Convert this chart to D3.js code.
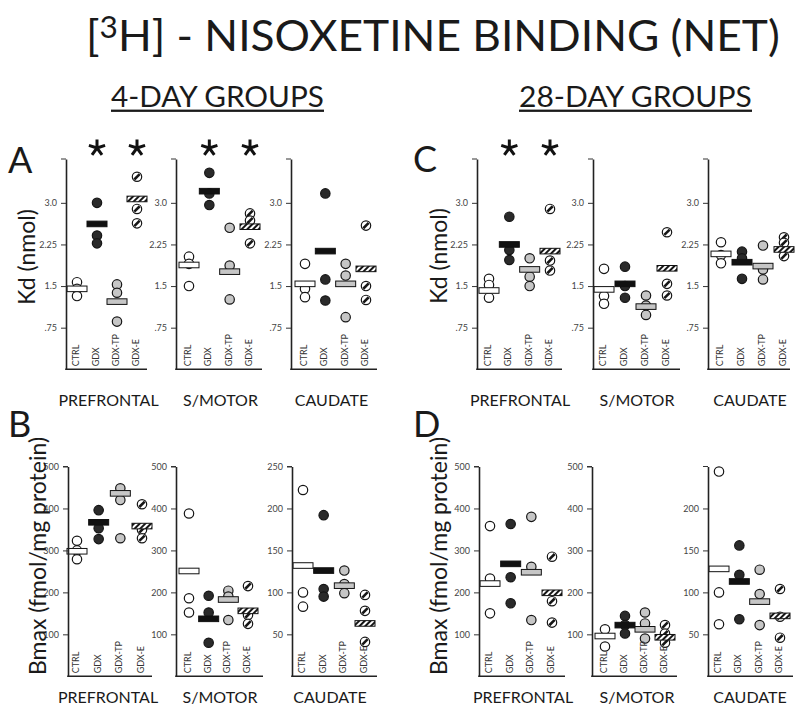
<!DOCTYPE html>
<html><head><meta charset="utf-8">
<script src="https://cdn.jsdelivr.net/npm/d3@7"></script>
<style>
body{margin:0;background:#fff}
svg{display:block}
text{font-family:Lato,"Open Sans","DejaVu Sans",sans-serif;fill:#1a1a1a}
</style>
</head><body>
<svg id="chart" width="800" height="710"></svg>
<script>
// ---------------- DATA ----------------
const groups = ["CTRL","GDX","GDX-TP","GDX-E"];
const regions = ["PREFRONTAL","S/MOTOR","CAUDATE"];
const kdTicks = [0.75,1.5,2.25,3.0];
const kdTickLabels = [".75","1.5","2.25","3.0"];
const bmaxTicks = [100,200,300,400,500];
const cauTicksB = [50,100,150,200,250];
const cauTicksD = [50,100,150,200];

// A: Kd, 4-day
const kd4PrefrontalPts = [[1.57,1.45,1.32],[3.00,2.41,2.27],[1.53,1.38,0.86],[3.47,2.89,2.63]];
const kd4PrefrontalMean = [1.45,2.62,1.22,3.07];
const kd4MotorPts = [[2.03,1.90,1.50],[3.54,3.17,2.96],[2.55,1.87,1.26],[2.81,2.68,2.27]];
const kd4MotorMean = [1.88,3.21,1.76,2.57];
const kd4CaudatePts = [[1.90,1.45,1.30],[3.17,1.62,1.24],[1.90,1.69,0.94],[2.59,1.50,1.25]];
const kd4CaudateMean = [1.54,2.13,1.54,1.81];
const kd4Stars = [["GDX","GDX-E"],["GDX","GDX-E"],[]];

// C: Kd, 28-day
const kd28PrefrontalPts = [[1.63,1.52,1.29],[2.75,2.15,1.97],[2.00,1.67,1.50],[2.89,1.96,1.78]];
const kd28PrefrontalMean = [1.42,2.25,1.80,2.13];
const kd28MotorPts = [[1.81,1.32,1.18],[1.85,1.50,1.29],[1.33,1.15,0.98],[2.47,1.54,1.33]];
const kd28MotorMean = [1.44,1.54,1.13,1.82];
const kd28CaudatePts = [[2.29,2.06,1.91],[2.12,2.00,1.63],[2.23,1.80,1.62],[2.38,2.28,2.04]];
const kd28CaudateMean = [2.08,1.93,1.86,2.16];
const kd28Stars = [["GDX","GDX-E"],[],[]];

// B: Bmax, 4-day
const bm4PrefrontalPts = [[323,300,279],[396,353,327],[448,420,329],[410,349,329]];
const bm4PrefrontalMean = [298,367,436,358];
const bm4MotorPts = [[388,186,152],[192,152,80],[204,190,134],[215,146,125]];
const bm4MotorMean = [251,137,183,156];
const bm4CaudatePts = [[222,100,83],[192,104,95],[126,110,99],[97,78,41]];
const bm4CaudateMean = [132,126,108,63];

// D: Bmax, 28-day
const bm28PrefrontalPts = [[358,233,150],[363,236,174],[380,261,134],[285,179,128]];
const bm28PrefrontalMean = [221,268,248,199];
const bm28MotorPts = [[112,71],[144,122,102],[152,126,90],[122,102,80]];
const bm28MotorMean = [96,122,112,93];
const bm28CaudatePts = [[244,100,62],[156,121,68],[127,98,61],[104,71,46]];
const bm28CaudateMean = [128,113,89,72];

// ---------------- DRAWING ----------------
const svg = d3.select("#chart");
const defs = svg.append("defs");
const pat = defs.append("pattern").attr("id","hatch")
  .attr("patternUnits","userSpaceOnUse").attr("width",4).attr("height",4)
  .attr("patternTransform","rotate(45)");
pat.append("rect").attr("width",4).attr("height",4).attr("fill","#fff");
pat.append("rect").attr("width",2).attr("height",4).attr("fill","#151515");

const fills = {"CTRL":"#ffffff","GDX":"#2a2a2a","GDX-TP":"#c6c6c6","GDX-E":"#ffffff"};
const barFills = {"CTRL":"#ffffff","GDX":"#111111","GDX-TP":"#c6c6c6","GDX-E":"url(#hatch)"};

function fitText(sel, x0, x1, baseline){
  const bb = sel.node().getBBox();
  const sx = (x1 - x0) / bb.width;
  sel.attr("transform", `translate(${x0 - bb.x*sx},${baseline}) scale(${sx},1)`);
}

function starPath(cx, cy, L){
  let d = "";
  for (let i=0;i<5;i++){
    const a = -Math.PI/2 + i*2*Math.PI/5;
    d += `M${cx},${cy}L${cx+L*Math.cos(a)},${cy+L*Math.sin(a)}`;
  }
  return d;
}

function panel(c){
  const g = svg.append("g");
  const y = d3.scaleLinear().domain([0,c.ymax]).range([c.bottom,c.top]);
  const x = d3.scalePoint().domain(groups).range(c.xr);

  // points
  groups.forEach((grp,i)=>{
    c.pts[i].forEach(v=>{
      const cx = x(grp), cy = y(v);
      g.append("circle").attr("cx",cx).attr("cy",cy).attr("r",4.7)
        .attr("fill",fills[grp]).attr("stroke","#151515").attr("stroke-width",1.2);
      if (grp==="GDX-E"){
        g.append("line").attr("x1",cx-2.7).attr("y1",cy+2.7).attr("x2",cx+2.7).attr("y2",cy-2.7)
          .attr("stroke","#151515").attr("stroke-width",2.6);
      }
    });
  });
  // mean bars
  g.selectAll("rect.mean").data(c.mean).join("rect").attr("class","mean")
    .attr("x",(d,i)=>x(groups[i])-10).attr("y",d=>y(d)-2.8)
    .attr("width",20).attr("height",5.6)
    .attr("fill",(d,i)=>barFills[groups[i]])
    .attr("stroke","#111").attr("stroke-width",1);

  // y axis
  const ax = g.append("g").attr("transform",`translate(${c.axisX},0)`)
    .call(d3.axisLeft(y).tickValues(c.ticks).tickFormat(c.fmt).tickSize(5).tickSizeOuter(0).tickPadding(4));
  ax.select(".domain").attr("stroke","#222").attr("stroke-width",1.6);
  ax.selectAll(".tick line").attr("stroke","#333").attr("stroke-width",1);
  ax.selectAll(".tick text").attr("font-size",9).style("fill","#444").attr("font-family","Lato, sans-serif");
  g.append("line").attr("x1",c.axisX-5).attr("x2",c.axisX).attr("y1",c.top).attr("y2",c.top)
    .attr("stroke","#333").attr("stroke-width",1);
  // bottom line
  g.append("line").attr("x1",c.axisX-0.8).attr("x2",c.endX).attr("y1",c.bottom).attr("y2",c.bottom)
    .attr("stroke","#222").attr("stroke-width",1.6);

  // category labels
  groups.forEach(grp=>{
    g.append("text").attr("transform",`translate(${x(grp)-1},${c.bottom-3}) rotate(-90)`)
      .attr("dy","0.35em").attr("font-size",9).style("fill","#333").text(grp);
  });
  // region label
  g.append("text").attr("x",c.labelX).attr("y",c.labelY).attr("text-anchor","middle")
    .attr("font-size",16).text(c.region);
  // stars
  (c.stars||[]).forEach(grp=>{
    g.append("path").attr("d",starPath(x(grp),148,8.5)).attr("stroke","#111")
      .attr("stroke-width",3).attr("fill","none");
  });
}

const kdFmt = d => kdTickLabels[kdTicks.indexOf(d)];
const numFmt = d3.format("d");
const kdTop = 159, kdBottom = 369.3, kdMax = 3.79;
const bmTop = 466.5, bmBottom = 676.3;

// Panel A
panel({region:regions[0],axisX:66,endX:147,xr:[77,137],top:kdTop,bottom:kdBottom,ymax:kdMax,ticks:kdTicks,fmt:kdFmt,pts:kd4PrefrontalPts,mean:kd4PrefrontalMean,stars:kd4Stars[0],labelX:108.5,labelY:406});
panel({region:regions[1],axisX:176,endX:262,xr:[189,250],top:kdTop,bottom:kdBottom,ymax:kdMax,ticks:kdTicks,fmt:kdFmt,pts:kd4MotorPts,mean:kd4MotorMean,stars:kd4Stars[1],labelX:220.5,labelY:406});
panel({region:regions[2],axisX:291,endX:377,xr:[305,366],top:kdTop,bottom:kdBottom,ymax:kdMax,ticks:kdTicks,fmt:kdFmt,pts:kd4CaudatePts,mean:kd4CaudateMean,stars:kd4Stars[2],labelX:331.5,labelY:406});
// Panel C
panel({region:regions[0],axisX:477,endX:562,xr:[489,550],top:kdTop,bottom:kdBottom,ymax:kdMax,ticks:kdTicks,fmt:kdFmt,pts:kd28PrefrontalPts,mean:kd28PrefrontalMean,stars:kd28Stars[0],labelX:520,labelY:406});
panel({region:regions[1],axisX:593,endX:680,xr:[604,667],top:kdTop,bottom:kdBottom,ymax:kdMax,ticks:kdTicks,fmt:kdFmt,pts:kd28MotorPts,mean:kd28MotorMean,stars:kd28Stars[1],labelX:637,labelY:406});
panel({region:regions[2],axisX:708,endX:790,xr:[721,784],top:kdTop,bottom:kdBottom,ymax:kdMax,ticks:kdTicks,fmt:kdFmt,pts:kd28CaudatePts,mean:kd28CaudateMean,stars:kd28Stars[2],labelX:750,labelY:406});
// Panel B
panel({region:regions[0],axisX:68,endX:152,xr:[77,142],top:bmTop,bottom:bmBottom,ymax:500,ticks:bmaxTicks,fmt:numFmt,pts:bm4PrefrontalPts,mean:bm4PrefrontalMean,labelX:108,labelY:703});
panel({region:regions[1],axisX:176,endX:263,xr:[189,248],top:bmTop,bottom:bmBottom,ymax:500,ticks:bmaxTicks,fmt:numFmt,pts:bm4MotorPts,mean:bm4MotorMean,labelX:220,labelY:703});
panel({region:regions[2],axisX:292,endX:377,xr:[303,365],top:bmTop,bottom:bmBottom,ymax:250,ticks:cauTicksB,fmt:numFmt,pts:bm4CaudatePts,mean:bm4CaudateMean,labelX:330,labelY:703});
// Panel D
panel({region:regions[0],axisX:479,endX:565,xr:[490,552],top:bmTop,bottom:bmBottom,ymax:500,ticks:bmaxTicks,fmt:numFmt,pts:bm28PrefrontalPts,mean:bm28PrefrontalMean,labelX:523,labelY:703});
panel({region:regions[1],axisX:592,endX:677,xr:[605,665],top:bmTop,bottom:bmBottom,ymax:500,ticks:bmaxTicks,fmt:numFmt,pts:bm28MotorPts,mean:bm28MotorMean,labelX:637,labelY:703});
panel({region:regions[2],axisX:708,endX:793,xr:[719,780],top:bmTop,bottom:bmBottom,ymax:250,ticks:cauTicksD,fmt:numFmt,pts:bm28CaudatePts,mean:bm28CaudateMean,labelX:750,labelY:703});

// Panel letters
[["A",8,173],["B",8,437],["C",413,172],["D",413,437]].forEach(([t,x,yy])=>{
  svg.append("text").attr("x",x).attr("y",yy).attr("font-size",36).text(t);
});

// Y axis titles
[["Kd (nmol)",35,257],["Kd (nmol)",447,256],["Bmax (fmol/mg protein)",46,556],["Bmax (fmol/mg protein)",447,556]].forEach(([t,x,yy])=>{
  svg.append("text").attr("transform",`translate(${x},${yy}) rotate(-90)`)
    .attr("text-anchor","middle").attr("font-size",23).text(t);
});

// Title
const title = svg.append("text").attr("font-size",42);
title.append("tspan").text("[");
title.append("tspan").attr("font-size",30).attr("dy",-13).text("3");
title.append("tspan").attr("dy",13).text("H] - NISOXETINE BINDING (NET)");
fitText(title, 86, 780, 51);

// Group headings
[["4-DAY GROUPS",111,324],["28-DAY GROUPS",519,752]].forEach(([t,x0,x1])=>{
  const h = svg.append("text").attr("font-size",29).text(t);
  fitText(h, x0, x1, 107);
  svg.append("rect").attr("x",x0).attr("y",109.6).attr("width",x1-x0).attr("height",2.3).attr("fill","#1a1a1a");
});
</script>
</body></html>
